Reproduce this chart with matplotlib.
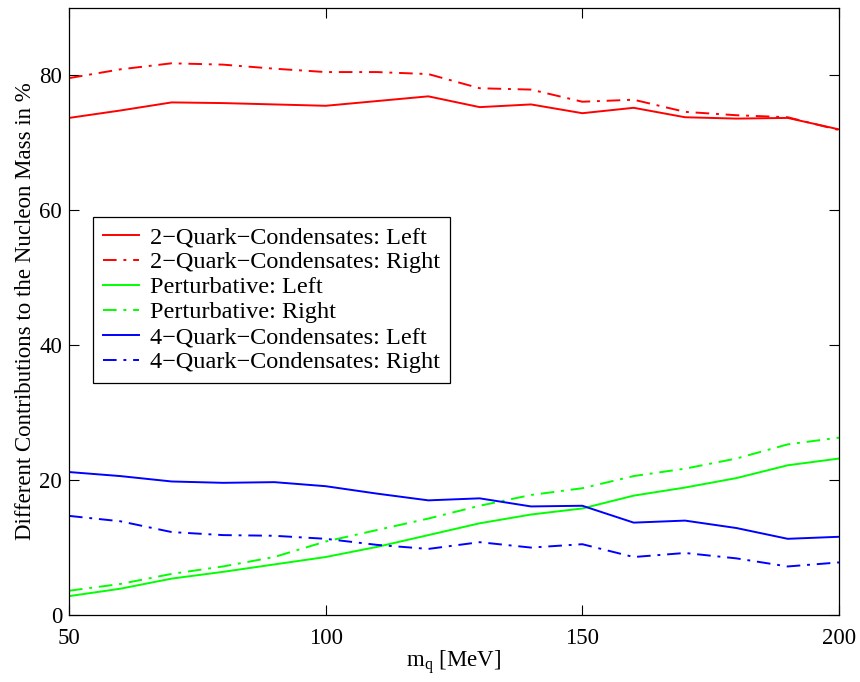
import numpy as np
import matplotlib
matplotlib.use("Agg")
import matplotlib.pyplot as plt

plt.rcParams['font.family'] = ['Liberation Serif', 'DejaVu Serif']
plt.rcParams['mathtext.fontset'] = 'stix'

# masas del quark en MeV
mq = [50, 60, 70, 80, 90, 100, 110, 120, 130, 140, 150, 160, 170, 180, 190, 200]

# contribuciones en %
quark2_left = [73.7, 74.8, 76.0, 75.9, 75.7, 75.5, 76.2, 76.9, 75.3, 75.7, 74.4, 75.2, 73.8, 73.6, 73.7, 72.0]
quark2_right = [79.6, 80.9, 81.8, 81.6, 81.0, 80.5, 80.5, 80.2, 78.1, 77.9, 76.1, 76.4, 74.6, 74.1, 73.8, 71.9]
pert_left = [2.8, 3.9, 5.4, 6.4, 7.5, 8.6, 10.1, 11.85, 13.6, 14.9, 15.8, 17.7, 18.9, 20.3, 22.2, 23.2]
pert_right = [3.6, 4.6, 6.1, 7.2, 8.6, 10.9, 12.6, 14.3, 16.2, 17.8, 18.8, 20.6, 21.7, 23.2, 25.3, 26.3]
quark4_left = [21.2, 20.6, 19.8, 19.6, 19.7, 19.1, 18.0, 17.0, 17.3, 16.1, 16.2, 13.7, 14.0, 12.9, 11.3, 11.6]
quark4_right = [14.7, 13.9, 12.3, 11.85, 11.75, 11.3, 10.4, 9.8, 10.8, 10.0, 10.5, 8.6, 9.2, 8.4, 7.2, 7.8]

etiquetas = ['2\u2212Quark\u2212Condensates: Left', '2\u2212Quark\u2212Condensates: Right',
             'Perturbative: Left', 'Perturbative: Right',
             '4\u2212Quark\u2212Condensates: Left', '4\u2212Quark\u2212Condensates: Right']

fig = plt.figure(figsize=(8.6, 6.82), dpi=100)
ax = fig.add_axes([0.0802, 0.0982, 0.8954, 0.8901])

dashdot = (0, (7, 3.5, 1.5, 3.5))
lw = 1.4
ax.plot(mq, quark2_left, color='#ff0000', lw=lw, label=etiquetas[0])
ax.plot(mq, quark2_right, color='#ff0000', lw=lw, ls=dashdot, label=etiquetas[1])
ax.plot(mq, pert_left, color='#00ff00', lw=lw, label=etiquetas[2])
ax.plot(mq, pert_right, color='#00ff00', lw=lw, ls=dashdot, label=etiquetas[3])
ax.plot(mq, quark4_left, color='#0000ff', lw=lw, label=etiquetas[4])
ax.plot(mq, quark4_right, color='#0000ff', lw=lw, ls=dashdot, label=etiquetas[5])

ax.set_xlim(50, 200)
ax.set_ylim(0, 90)
ax.set_xticks([50, 100, 150, 200])
ax.set_yticks([0, 20, 40, 60, 80])
ax.tick_params(direction='in', top=True, right=True, labelsize=16.5, length=7)
ax.tick_params(axis='y', pad=5)
ax.tick_params(axis='x', pad=9)
for s in ax.spines.values():
    s.set_linewidth(0.9)

ax.set_xlabel(r'm$_\mathregular{q}$ [MeV]', fontsize=16.5, labelpad=0)
ax.set_ylabel('Different Contributions to the Nucleon Mass in %', fontsize=16.5, labelpad=2)

leg = ax.legend(loc='upper left', bbox_to_anchor=(0.031, 0.656), borderaxespad=0,
                fontsize=17.5, fancybox=False, edgecolor='black', framealpha=1,
                labelspacing=0.12, handlelength=1.5, handletextpad=0.45, borderpad=0.4)
leg.get_frame().set_linewidth(0.9)

fig.savefig('out.png', dpi=100)
